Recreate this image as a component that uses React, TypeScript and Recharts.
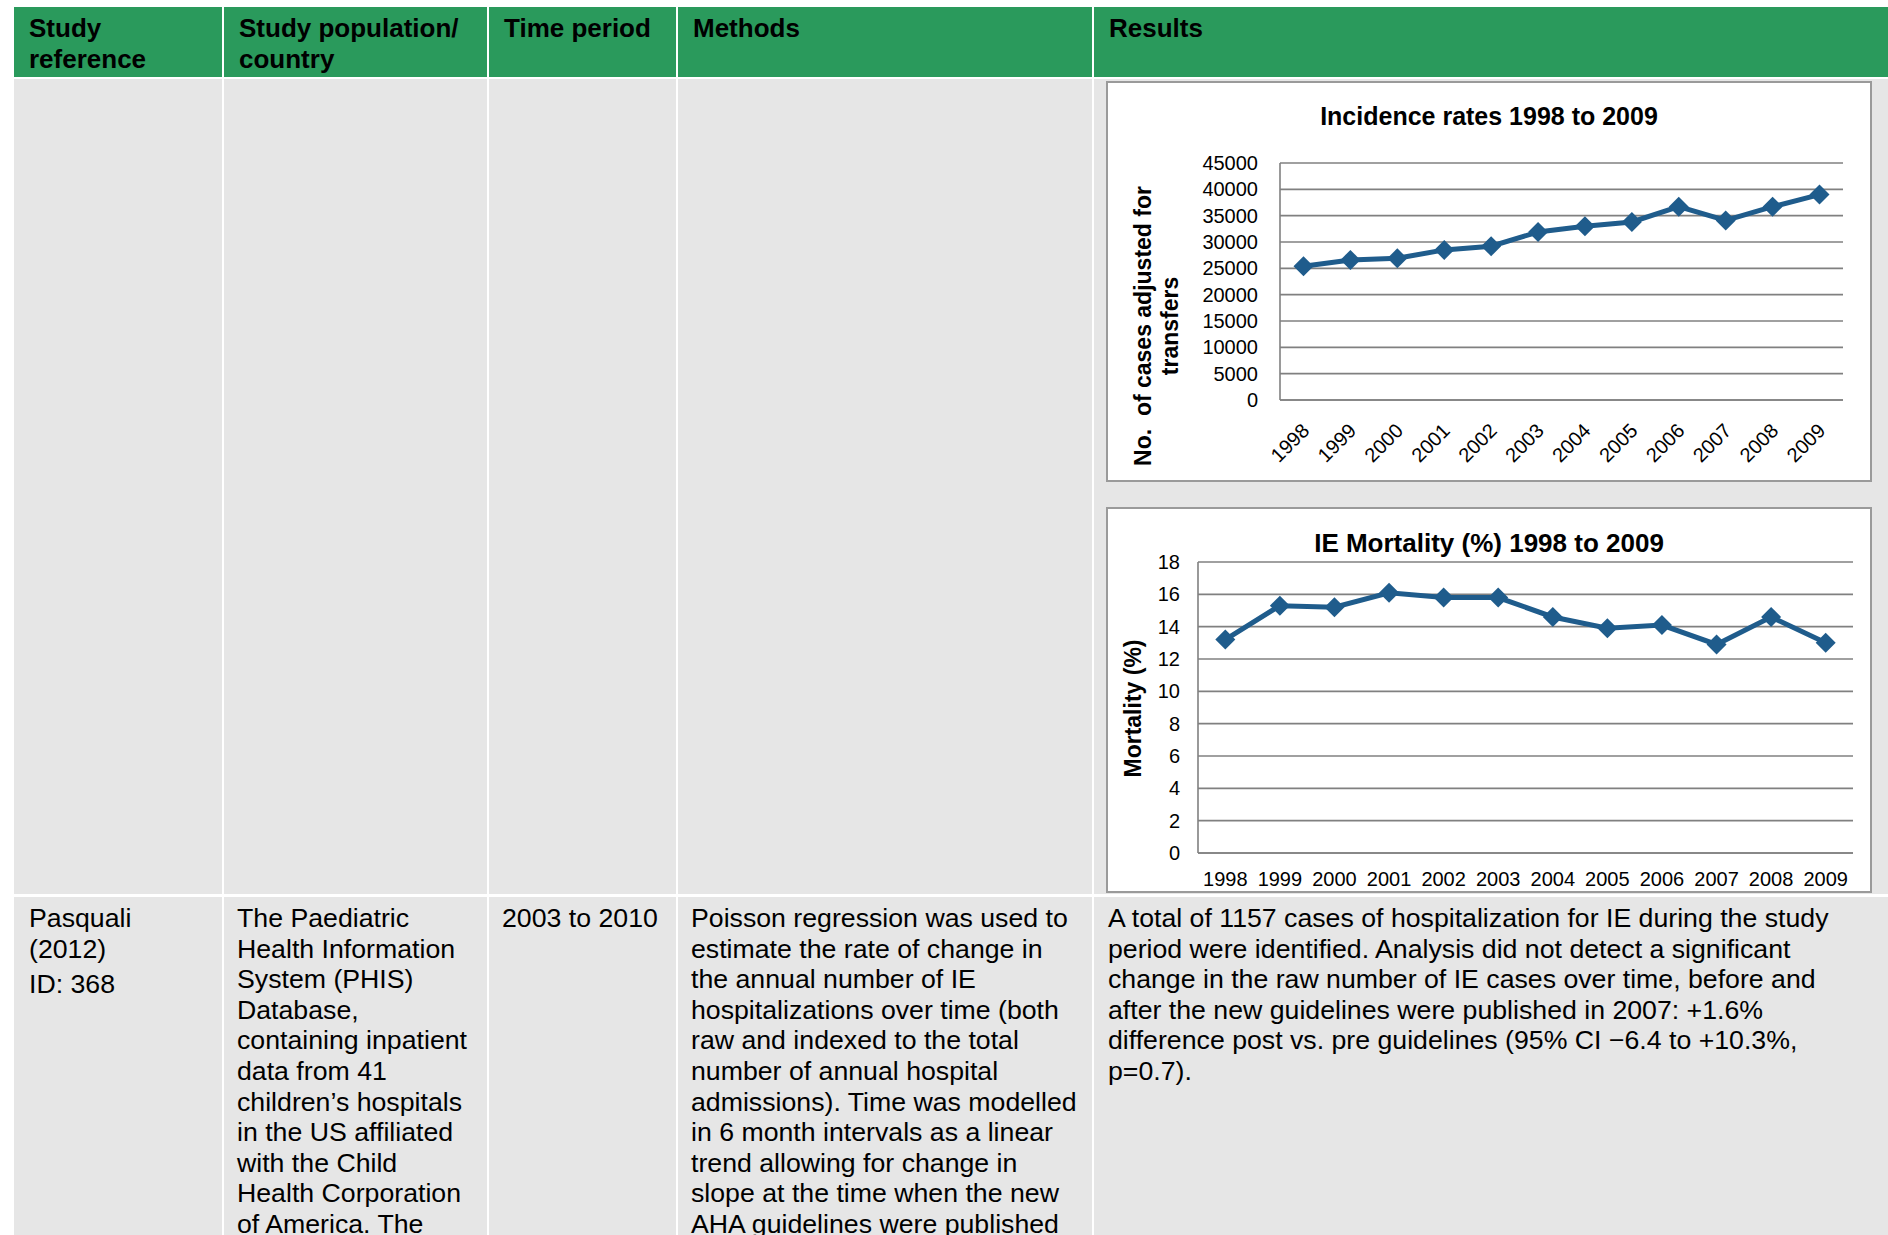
import React from 'react';
import { CartesianGrid, Line, LineChart, XAxis, YAxis } from 'recharts';

// chart data
const years = ['1998', '1999', '2000', '2001', '2002', '2003', '2004', '2005', '2006', '2007', '2008', '2009'];
const incidenceCases = [25400, 26600, 26900, 28500, 29200, 31900, 33000, 33800, 36700, 34100, 36700, 39000];
const mortalityPct = [13.2, 15.3, 15.2, 16.1, 15.8, 15.8, 14.6, 13.9, 14.1, 12.9, 14.6, 13.0];
const incidenceTicks = [0, 5000, 10000, 15000, 20000, 25000, 30000, 35000, 40000, 45000];
const mortalityTicks = [0, 2, 4, 6, 8, 10, 12, 14, 16, 18];

// table text
const headers = [['Study', 'reference'], ['Study population/', 'country'], ['Time period'], ['Methods'], ['Results']];
const refLines = ['Pasquali', '(2012)'];
const refId = 'ID: 368';
const populationLines = [
    'The Paediatric',
    'Health Information',
    'System (PHIS)',
    'Database,',
    'containing inpatient',
    'data from 41',
    'children\u2019s hospitals',
    'in the US affiliated',
    'with the Child',
    'Health Corporation',
    'of America. The',
];
const periodLines = ['2003 to 2010'];
const methodsLines = [
    'Poisson regression was used to',
    'estimate the rate of change in',
    'the annual number of IE',
    'hospitalizations over time (both',
    'raw and indexed to the total',
    'number of annual hospital',
    'admissions). Time was modelled',
    'in 6 month intervals as a linear',
    'trend allowing for change in',
    'slope at the time when the new',
    'AHA guidelines were published',
];
const resultsLines = [
    'A total of 1157 cases of hospitalization for IE during the study',
    'period were identified. Analysis did not detect a significant',
    'change in the raw number of IE cases over time, before and',
    'after the new guidelines were published in 2007: +1.6%',
    'difference post vs. pre guidelines (95% CI \u22126.4 to +10.3%,',
    'p=0.7).',
];

const incidenceData = years.map((year, i) => ({ year, cases: incidenceCases[i] }));
const mortalityData = years.map((year, i) => ({ year, mortality: mortalityPct[i] }));

const FONT = '"Liberation Sans", Arial, sans-serif';
const GREEN = '#2a9a5c';
const CELL = '#e6e6e6';
const LINE = '#1f5c8c';
const GRID = '#808080';

const cols: [number, number][] = [[14, 222], [224, 487], [489, 676], [678, 1092], [1094, 1888]];

function Diamond(props: any) {
    const { cx, cy } = props;
    if (cx == null || cy == null) return null;
    const r = 10;
    return <path d={`M${cx},${cy - r} L${cx + r},${cy} L${cx},${cy + r} L${cx - r},${cy} Z`} fill={LINE} />;
}

function SlantTick(props: any) {
    const { x, y, payload } = props;
    return (
        <g transform={`translate(${x + 7},${y + 32})`}>
            <text transform="rotate(-45)" textAnchor="end" fontSize={20} fontFamily={FONT} fill="#000">
                {payload.value}
            </text>
        </g>
    );
}

const tickStyle = { fontSize: 20, fill: '#000', fontFamily: FONT };

function Lines({ lines, top, left }: { lines: string[]; top: number; left: number }) {
    return (
        <div style={{ position: 'absolute', left, top, whiteSpace: 'nowrap' }}>
            {lines.map((l, i) => (
                <div key={i} style={{ height: 30.6, lineHeight: '30.6px' }}>{l}</div>
            ))}
        </div>
    );
}

export default function App() {
    return (
        <div
            style={{
                position: 'absolute',
                left: 0,
                top: 0,
                width: 1888,
                height: 1235,
                background: '#fff',
                overflow: 'hidden',
                fontFamily: FONT,
                color: '#000',
            }}
        >
            {/* header row */}
            {cols.map(([a, b], i) => (
                <div key={'h' + i} style={{ position: 'absolute', left: a, top: 7, width: b - a, height: 70, background: GREEN }}>
                    <div style={{ position: 'absolute', left: 15, top: 5.5, fontSize: 26, fontWeight: 'bold', lineHeight: '31px', whiteSpace: 'nowrap' }}>
                        {headers[i].map((h, j) => <div key={j}>{h}</div>)}
                    </div>
                </div>
            ))}

            {/* row 1 (charts) */}
            {cols.map(([a, b], i) => (
                <div key={'r1' + i} style={{ position: 'absolute', left: a, top: 79, width: b - a, height: 815, background: CELL }} />
            ))}

            {/* row 2 (text) */}
            {cols.map(([a, b], i) => (
                <div key={'r2' + i} style={{ position: 'absolute', left: a, top: 897, width: b - a, height: 338, background: CELL }} />
            ))}
            <div style={{ fontSize: 26.7 }}>
                <Lines lines={refLines} left={29} top={903} />
                <Lines lines={[refId]} left={29} top={903 + 61.2 + 5} />
                <Lines lines={populationLines} left={237} top={903} />
                <Lines lines={periodLines} left={502} top={903} />
                <Lines lines={methodsLines} left={691} top={903} />
                <Lines lines={resultsLines} left={1108} top={903} />
            </div>

            {/* incidence chart */}
            <div style={{ position: 'absolute', left: 1106, top: 81, width: 766, height: 401, background: '#fff', boxShadow: 'inset 0 0 0 2px #9a9a9a' }}>
                <div style={{ position: 'absolute', left: 0, top: 19.7, width: 766, textAlign: 'center', fontSize: 25, fontWeight: 'bold', lineHeight: '30px' }}>
                    Incidence rates 1998 to 2009
                </div>
                <div
                    style={{
                        position: 'absolute',
                        left: 50.5 - 170,
                        top: 245 - 27,
                        width: 340,
                        height: 54,
                        lineHeight: '27px',
                        fontSize: 23,
                        fontWeight: 'bold',
                        textAlign: 'center',
                        transform: 'rotate(-90deg)',
                        whiteSpace: 'pre',
                    }}
                >
                    <div>{'No.  of cases adjusted for'}</div>
                    <div>transfers</div>
                </div>
                <LineChart width={766} height={401} data={incidenceData} margin={{ top: 82, right: 29, left: 0, bottom: 0 }} style={{ position: 'absolute', left: 0, top: 0 }}>
                    <CartesianGrid vertical={false} stroke={GRID} strokeWidth={1.6} />
                    <XAxis
                        dataKey="year"
                        height={82}
                        padding={{ left: 23.5, right: 23.5 }}
                        tickLine={false}
                        tickSize={0}
                        tickMargin={0}
                        axisLine={{ stroke: GRID, strokeWidth: 1.6 }}
                        tick={<SlantTick />}
                        interval={0}
                    />
                    <YAxis
                        width={174}
                        domain={[0, 45000]}
                        ticks={incidenceTicks}
                        tickLine={false}
                        tickSize={0}
                        tickMargin={22}
                        axisLine={{ stroke: GRID, strokeWidth: 1.6 }}
                        tick={tickStyle}
                        interval={0}
                    />
                    <Line type="linear" dataKey="cases" stroke={LINE} strokeWidth={5} dot={<Diamond />} activeDot={false} isAnimationActive={false} />
                </LineChart>
            </div>

            {/* mortality chart */}
            <div style={{ position: 'absolute', left: 1106, top: 507, width: 766, height: 386, background: '#fff', boxShadow: 'inset 0 0 0 2px #9a9a9a' }}>
                <div style={{ position: 'absolute', left: 0, top: 21.2, width: 766, textAlign: 'center', fontSize: 26, fontWeight: 'bold', lineHeight: '30px' }}>
                    IE Mortality (%) 1998 to 2009
                </div>
                <div
                    style={{
                        position: 'absolute',
                        left: 27 - 100,
                        top: 201 - 13.5,
                        width: 200,
                        height: 27,
                        lineHeight: '27px',
                        fontSize: 23,
                        fontWeight: 'bold',
                        textAlign: 'center',
                        transform: 'rotate(-90deg)',
                        whiteSpace: 'nowrap',
                    }}
                >
                    Mortality (%)
                </div>
                <LineChart width={766} height={386} data={mortalityData} margin={{ top: 55, right: 19, left: 0, bottom: 0 }} style={{ position: 'absolute', left: 0, top: 0 }}>
                    <CartesianGrid vertical={false} stroke={GRID} strokeWidth={1.6} />
                    <XAxis
                        dataKey="year"
                        height={40}
                        padding={{ left: 27.3, right: 27.3 }}
                        tickLine={false}
                        tickSize={0}
                        tickMargin={19}
                        axisLine={{ stroke: GRID, strokeWidth: 1.6 }}
                        tick={tickStyle}
                        interval={0}
                    />
                    <YAxis
                        width={92}
                        domain={[0, 18]}
                        ticks={mortalityTicks}
                        tickLine={false}
                        tickSize={0}
                        tickMargin={18}
                        axisLine={{ stroke: GRID, strokeWidth: 1.6 }}
                        tick={tickStyle}
                        interval={0}
                    />
                    <Line type="linear" dataKey="mortality" stroke={LINE} strokeWidth={5} dot={<Diamond />} activeDot={false} isAnimationActive={false} />
                </LineChart>
            </div>
        </div>
    );
}
